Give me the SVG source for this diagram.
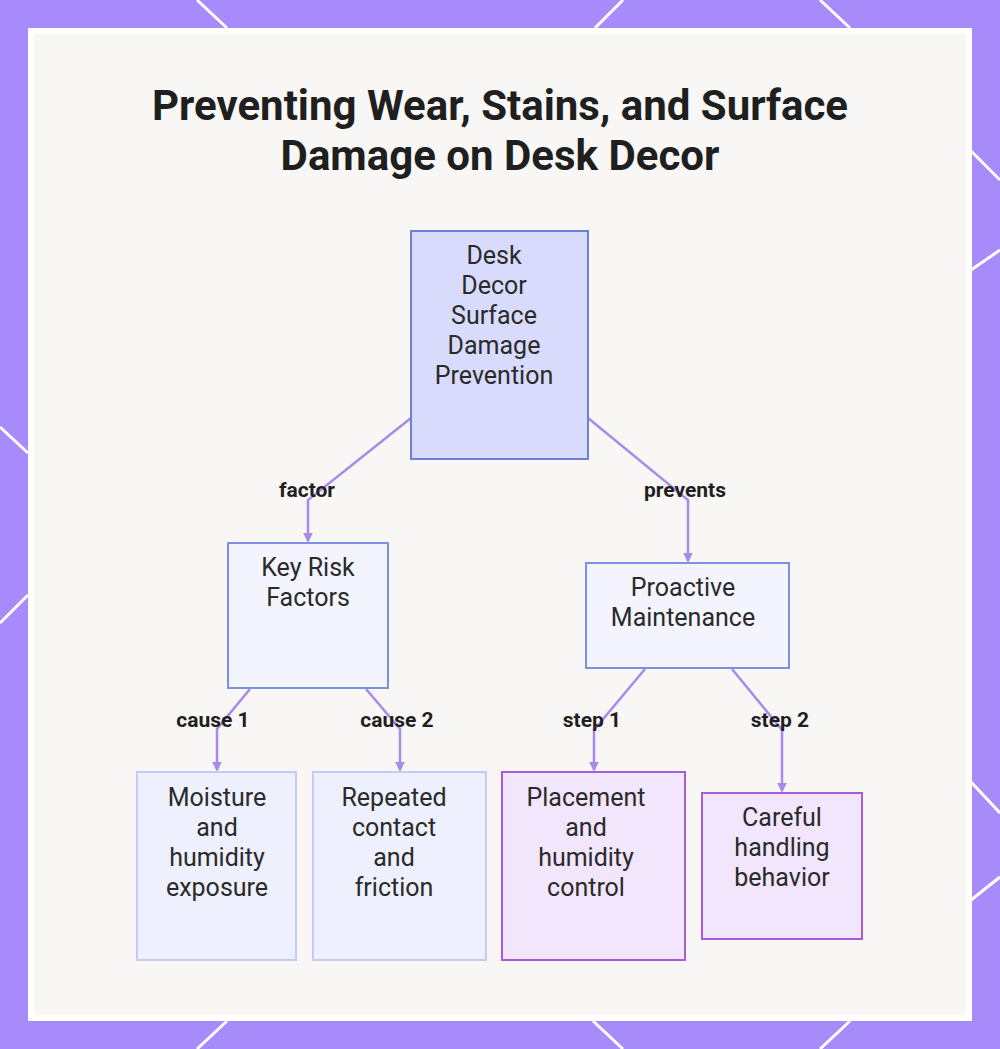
<svg xmlns="http://www.w3.org/2000/svg" width="1000" height="1049" viewBox="0 0 1000 1049">
<defs>
<style>
.title{font-family:Roboto,"Liberation Sans",sans-serif;font-weight:700;font-size:42px;fill:#1f1f1f;text-anchor:middle}
.nt{font-family:Roboto,"Liberation Sans",sans-serif;font-size:25px;fill:#2a2a2a;text-anchor:middle;dominant-baseline:central}
.lbl{font-family:Roboto,"Liberation Sans",sans-serif;font-weight:700;font-size:21px;fill:#1f1f1f;text-anchor:middle;dominant-baseline:central}
.edge{fill:none;stroke:#a88be8;stroke-width:2.5}
.deco{stroke:#ffffff;stroke-width:3}
.root{fill:#d9dbfc;stroke:#6e7fd6;stroke-width:2}
.mid{fill:#f3f4fd;stroke:#7d90e2;stroke-width:2}
.leafb{fill:#eef0fd;stroke:#c3cbf4;stroke-width:2}
.leafp{fill:#f1e6fc;stroke:#a95bd8;stroke-width:2}
</style>
<marker id="arr" viewBox="0 0 6 6" refX="5" refY="3" markerWidth="4" markerHeight="4" orient="auto">
<path d="M0,0 L6,3 L0,6 z" fill="#a88be8"/>
</marker>
</defs>
<rect x="0" y="0" width="1000" height="1049" fill="#a78bfa"/>
<g class="deco">
<line x1="197" y1="0" x2="227" y2="28"/>
<line x1="595" y1="28" x2="623" y2="0"/>
<line x1="820" y1="0" x2="850" y2="28"/>
<line x1="227" y1="1021" x2="197" y2="1049"/>
<line x1="593" y1="1021" x2="623" y2="1049"/>
<line x1="850" y1="1021" x2="820" y2="1049"/>
<line x1="0" y1="427" x2="28" y2="453"/>
<line x1="28" y1="595" x2="0" y2="623"/>
<line x1="970" y1="150" x2="1000" y2="180"/>
<line x1="971" y1="270" x2="1000" y2="250"/>
<line x1="971" y1="782" x2="1000" y2="813"/>
<line x1="971" y1="900" x2="1000" y2="877"/>
</g>
<rect x="31" y="31" width="938" height="987" fill="#f8f7f6" stroke="#ffffff" stroke-width="6"/>
<text class="title" x="500" y="120">Preventing Wear, Stains, and Surface</text>
<text class="title" x="500" y="170">Damage on Desk Decor</text>
<g id="connectors">
<polyline class="edge" points="411,418 308,500 308,541" marker-end="url(#arr)"/>
<polyline class="edge" points="588,418 688,500 688,561" marker-end="url(#arr)"/>
<polyline class="edge" points="250,689 217,729 217,770" marker-end="url(#arr)"/>
<polyline class="edge" points="366,689 400,729 400,770" marker-end="url(#arr)"/>
<polyline class="edge" points="645,669 594,730 594,770" marker-end="url(#arr)"/>
<polyline class="edge" points="732,669 782,730 782,791" marker-end="url(#arr)"/>
<text class="lbl" x="307" y="490">factor</text>
<text class="lbl" x="685" y="490">prevents</text>
<text class="lbl" x="213" y="720">cause 1</text>
<text class="lbl" x="397" y="720">cause 2</text>
<text class="lbl" x="592" y="720">step 1</text>
<text class="lbl" x="780" y="720">step 2</text>
</g>
<g id="node-root">
<rect class="root" x="411" y="231" width="177" height="228"/>
<text class="nt" x="494" y="255">Desk</text>
<text class="nt" x="494" y="285">Decor</text>
<text class="nt" x="494" y="315">Surface</text>
<text class="nt" x="494" y="345">Damage</text>
<text class="nt" x="494" y="375">Prevention</text>
</g>
<g id="node-risk">
<rect class="mid" x="228" y="543" width="160" height="145"/>
<text class="nt" x="308" y="567">Key Risk</text>
<text class="nt" x="308" y="597">Factors</text>
</g>
<g id="node-maint">
<rect class="mid" x="586" y="563" width="203" height="105"/>
<text class="nt" x="683" y="587">Proactive</text>
<text class="nt" x="683" y="617">Maintenance</text>
</g>
<g id="node-moisture">
<rect class="leafb" x="137" y="772" width="159" height="188"/>
<text class="nt" x="217" y="797">Moisture</text>
<text class="nt" x="217" y="827">and</text>
<text class="nt" x="217" y="857">humidity</text>
<text class="nt" x="217" y="887">exposure</text>
</g>
<g id="node-contact">
<rect class="leafb" x="313" y="772" width="173" height="188"/>
<text class="nt" x="394" y="797">Repeated</text>
<text class="nt" x="394" y="827">contact</text>
<text class="nt" x="394" y="857">and</text>
<text class="nt" x="394" y="887">friction</text>
</g>
<g id="node-placement">
<rect class="leafp" x="502" y="772" width="183" height="188"/>
<text class="nt" x="586" y="797">Placement</text>
<text class="nt" x="586" y="827">and</text>
<text class="nt" x="586" y="857">humidity</text>
<text class="nt" x="586" y="887">control</text>
</g>
<g id="node-handling">
<rect class="leafp" x="702" y="793" width="160" height="146"/>
<text class="nt" x="782" y="817">Careful</text>
<text class="nt" x="782" y="847">handling</text>
<text class="nt" x="782" y="877">behavior</text>
</g>
</svg>
